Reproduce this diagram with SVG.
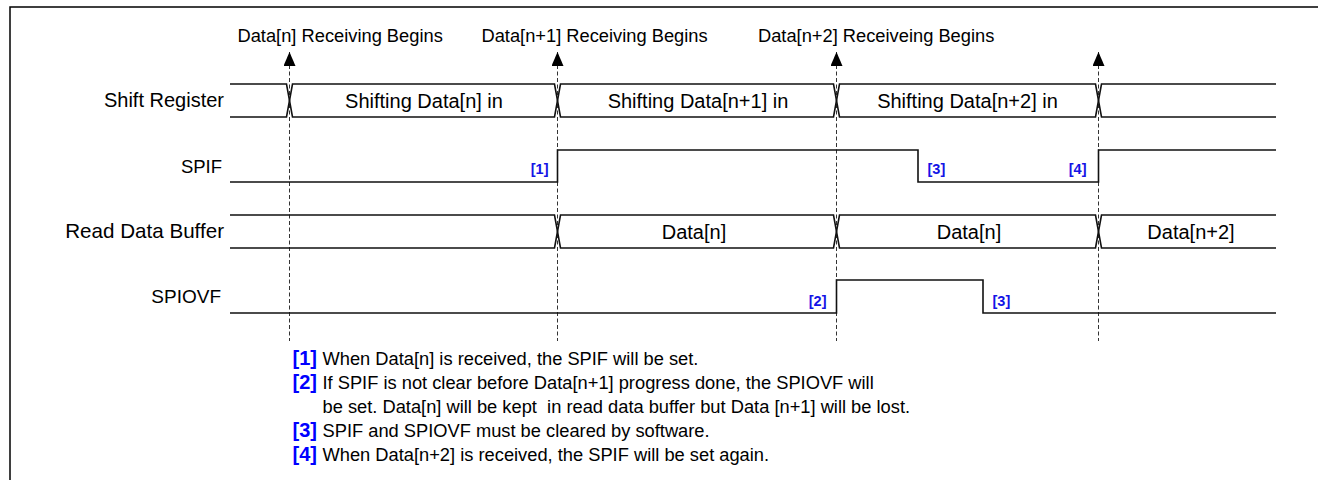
<svg xmlns="http://www.w3.org/2000/svg" width="1318" height="480" viewBox="0 0 1318 480">
<defs>
<style>
.frame{fill:none;stroke:#000;stroke-width:1.5}
.sig{fill:none;stroke:#111;stroke-width:1.6}
.guide{fill:none;stroke:#333;stroke-width:1;stroke-dasharray:4,2.5}
.lbl{font-family:"Liberation Sans",Arial,sans-serif;font-size:20px;fill:#000}
.top{font-family:"Liberation Sans",Arial,sans-serif;font-size:18.3px;fill:#000}
.note{font-family:"Liberation Sans",Arial,sans-serif;font-size:18.3px;fill:#000}
.mk{font-family:"Liberation Sans",Arial,sans-serif;font-size:14.5px;font-weight:bold;fill:#1414e6}
.nmk{font-family:"Liberation Sans",Arial,sans-serif;font-size:20px;font-weight:bold;fill:#0000ff}
</style>
<marker id="arr" viewBox="0 0 14 12" refX="14" refY="6" markerWidth="14" markerHeight="12" markerUnits="userSpaceOnUse" orient="auto-start-reverse">
<path d="M0,0 L14,6 L0,12 Z" fill="#000"/>
</marker>
</defs>
<rect width="1318" height="480" fill="#fff"/>
<path class="frame" d="M10,480 V7 H1318"/>

<g id="connectors">
<path class="guide" d="M289.5,52 V341" marker-start="url(#arr)"/>
<path class="guide" d="M557.5,52 V341" marker-start="url(#arr)"/>
<path class="guide" d="M836.5,52 V341" marker-start="url(#arr)"/>
<path class="guide" d="M1098.5,52 V341" marker-start="url(#arr)"/>
</g>

<g id="event-labels">
<text class="top" x="237.5" y="42">Data[n] Receiving Begins</text>
<text class="top" x="481.5" y="42">Data[n+1] Receiving Begins</text>
<text class="top" x="758" y="42">Data[n+2] Receiveing Begins</text>
</g>

<g id="shift-register">
<text class="lbl" x="224" y="107" text-anchor="end">Shift Register</text>
<path class="sig" d="M230,84 H286.5 L292.5,117 H554.5 L560.5,84 H833.5 L839.5,117 H1095.5 L1101.5,84 H1276"/>
<path class="sig" d="M230,117 H286.5 L292.5,84 H554.5 L560.5,117 H833.5 L839.5,84 H1095.5 L1101.5,117 H1276"/>
<text class="lbl" x="424" y="108" text-anchor="middle">Shifting Data[n] in</text>
<text class="lbl" x="698" y="108" text-anchor="middle">Shifting Data[n+1] in</text>
<text class="lbl" x="967.5" y="108" text-anchor="middle">Shifting Data[n+2] in</text>
</g>

<g id="spif">
<text class="lbl" x="222" y="173" text-anchor="end" style="font-size:18.5px">SPIF</text>
<path class="sig" d="M230,182 H557.5 V150 H918 V182 H1098.5 V150 H1276"/>
<text class="mk" x="548.5" y="173.5" text-anchor="end">[1]</text>
<text class="mk" x="927.5" y="173.5">[3]</text>
<text class="mk" x="1086.5" y="173.5" text-anchor="end">[4]</text>
</g>

<g id="read-data-buffer">
<text class="lbl" x="224" y="238" text-anchor="end" style="font-size:20.6px">Read Data Buffer</text>
<path class="sig" d="M230,215 H554.5 L560.5,248 H833.5 L839.5,215 H1095.5 L1101.5,248 H1276"/>
<path class="sig" d="M230,248 H554.5 L560.5,215 H833.5 L839.5,248 H1095.5 L1101.5,215 H1276"/>
<text class="lbl" x="694" y="239" text-anchor="middle">Data[n]</text>
<text class="lbl" x="969" y="239" text-anchor="middle">Data[n]</text>
<text class="lbl" x="1191" y="239" text-anchor="middle">Data[n+2]</text>
</g>

<g id="spiovf">
<text class="lbl" x="221" y="303" text-anchor="end" style="font-size:19px">SPIOVF</text>
<path class="sig" d="M230,313 H836.5 V280 H983 V313 H1276"/>
<text class="mk" x="826.5" y="305.5" text-anchor="end">[2]</text>
<text class="mk" x="992.5" y="305.5">[3]</text>
</g>

<g id="notes">
<text class="nmk" x="292.5" y="365">[1]</text>
<text class="note" x="322.5" y="364.5">When Data[n] is received, the SPIF will be set.</text>
<text class="nmk" x="292.5" y="389">[2]</text>
<text class="note" x="322.5" y="388.5">If SPIF is not clear before Data[n+1] progress done, the SPIOVF will</text>
<text class="note" x="322.5" y="412.5" xml:space="preserve">be set. Data[n] will be kept  in read data buffer but Data [n+1] will be lost.</text>
<text class="nmk" x="292.5" y="437">[3]</text>
<text class="note" x="322.5" y="436.5">SPIF and SPIOVF must be cleared by software.</text>
<text class="nmk" x="292.5" y="461">[4]</text>
<text class="note" x="322.5" y="460.5">When Data[n+2] is received, the SPIF will be set again.</text>
</g>
</svg>
